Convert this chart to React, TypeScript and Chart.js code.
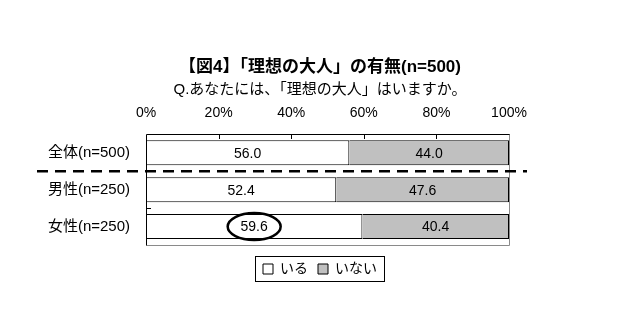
import React, { useEffect, useRef } from 'react';
import { Chart, registerables } from 'chart.js';

Chart.register(...registerables);

const categories = ['全体(n=500)', '男性(n=250)', '女性(n=250)'];
const seriesNames = ['いる', 'いない'];
const iruValues = [56.0, 52.4, 59.6];
const inaiValues = [44.0, 47.6, 40.4];
const seriesColors = ['#ffffff', '#c0c0c0'];
const xMin = 0;
const xMax = 100;
const xStep = 20;
const titleLine1 = '【図4】「理想の大人」の有無(n=500)';
const titleLine2 = 'Q.あなたには、「理想の大人」はいますか。';
const highlight = { dataset: 0, index: 2 };

const LATIN = "'Liberation Sans', 'Noto Sans CJK JP', sans-serif";
const NARROW = "'Liberation Sans Narrow', 'Liberation Sans', 'Noto Sans CJK JP', sans-serif";

const decorPlugin = {
  id: 'decor',
  afterDatasetsDraw(chart: any) {
    const ctx = chart.ctx;
    const ca = chart.chartArea;
    const xs = chart.scales.x;
    const ys = chart.scales.y;
    ctx.save();
    // data labels
    ctx.font = `14px ${LATIN}`;
    ctx.fillStyle = '#000';
    ctx.textAlign = 'center';
    ctx.textBaseline = 'middle';
    chart.data.datasets.forEach((ds: any, di: number) => {
      const meta = chart.getDatasetMeta(di);
      meta.data.forEach((el: any, i: number) => {
        const cx = (el.x + el.base) / 2;
        ctx.fillText(Number(ds.data[i]).toFixed(1), cx, el.y + 1);
        if (di === highlight.dataset && i === highlight.index) {
          ctx.beginPath();
          ctx.lineWidth = 2.5;
          ctx.strokeStyle = '#000';
          ctx.ellipse(cx, el.y, 26.5, 13.5, 0, 0, Math.PI * 2);
          ctx.stroke();
        }
      });
    });
    // frame
    ctx.lineWidth = 1;
    ctx.strokeStyle = '#8a8a8a';
    ctx.beginPath();
    ctx.moveTo(Math.round(ca.right) + 0.5, Math.round(ca.top));
    ctx.lineTo(Math.round(ca.right) + 0.5, Math.round(ca.bottom) + 0.5);
    ctx.lineTo(Math.round(ca.left) + 0.5, Math.round(ca.bottom) + 0.5);
    ctx.stroke();
    ctx.strokeStyle = '#000';
    ctx.beginPath();
    ctx.moveTo(Math.round(ca.left) + 0.5, Math.round(ca.bottom) + 0.5);
    ctx.lineTo(Math.round(ca.left) + 0.5, Math.round(ca.top) + 0.5);
    ctx.lineTo(Math.round(ca.right) + 0.5, Math.round(ca.top) + 0.5);
    ctx.stroke();
    // inward x ticks
    ctx.beginPath();
    for (let v = xMin + xStep; v < xMax; v += xStep) {
      const px = Math.round(xs.getPixelForValue(v)) + 0.5;
      ctx.moveTo(px, Math.round(ca.top));
      ctx.lineTo(px, Math.round(ca.top) + 5);
    }
    // inward category ticks
    for (let i = 0; i < categories.length - 1; i++) {
      const py = Math.round((ys.getPixelForValue(i) + ys.getPixelForValue(i + 1)) / 2) + 0.5;
      ctx.moveTo(Math.round(ca.left), py);
      ctx.lineTo(Math.round(ca.left) + 5, py);
    }
    ctx.stroke();
    // dashed separator between total and breakdown
    const sepY = (ys.getPixelForValue(0) + ys.getPixelForValue(1)) / 2;
    ctx.beginPath();
    ctx.setLineDash([11, 7]);
    ctx.lineWidth = 2.5;
    ctx.moveTo(ca.left - 109, sepY);
    ctx.lineTo(ca.right + 18, sepY);
    ctx.stroke();
    ctx.setLineDash([]);
    // legend box
    const lg = chart.legend;
    if (lg && lg.legendHitBoxes && lg.legendHitBoxes.length) {
      const hb = lg.legendHitBoxes;
      const first = hb[0];
      const last = hb[hb.length - 1];
      const l = Math.round(first.left - 8) + 0.5;
      const r = Math.round(last.left + last.width + 7) + 0.5;
      const t = Math.round(first.top - 6) + 0.5;
      const b = Math.round(first.top + first.height + 5) + 0.5;
      ctx.lineWidth = 1;
      ctx.strokeStyle = '#000';
      ctx.strokeRect(l, t, r - l, b - t);
    }
    ctx.restore();
  },
};

export default function App() {
  const ref = useRef<HTMLCanvasElement | null>(null);
  useEffect(() => {
    if (!ref.current) return;
    Chart.defaults.color = '#000';
    const chart = new Chart(ref.current, {
      type: 'bar',
      data: {
        labels: categories,
        datasets: [
          {
            label: seriesNames[0],
            data: iruValues,
            backgroundColor: seriesColors[0],
            borderColor: '#000',
            borderWidth: 1,
            barPercentage: 0.68,
            categoryPercentage: 1,
          },
          {
            label: seriesNames[1],
            data: inaiValues,
            backgroundColor: seriesColors[1],
            borderColor: '#000',
            borderWidth: 1,
            barPercentage: 0.68,
            categoryPercentage: 1,
          },
        ],
      },
      options: {
        indexAxis: 'y',
        animation: false,
        responsive: false,
        devicePixelRatio: 1,
        layout: { padding: { left: 22, right: 0, top: 0, bottom: 41 } },
        scales: {
          x: {
            type: 'linear',
            position: 'top',
            stacked: true,
            min: xMin,
            max: xMax,
            ticks: {
              stepSize: xStep,
              padding: 13,
              font: { family: NARROW, size: 14 },
              color: '#000',
              callback: (v: any) => `${v}%`,
            },
            grid: { display: false, drawTicks: false },
            border: { display: false },
            afterFit: (s: any) => {
              s.height = 36;
            },
          },
          y: {
            type: 'category',
            stacked: true,
            ticks: {
              padding: 16,
              font: { family: LATIN, size: 15 },
              color: '#000',
            },
            grid: { display: false, drawTicks: false },
            border: { display: false },
            afterFit: (s: any) => {
              s.width = 124;
            },
          },
          x2: {
            type: 'linear',
            position: 'bottom',
            display: true,
            ticks: { display: false },
            grid: { display: false, drawTicks: false },
            border: { display: false },
            afterFit: (s: any) => {
              s.height = 7;
            },
          },
          y2: {
            type: 'linear',
            position: 'right',
            display: true,
            ticks: { display: false },
            grid: { display: false, drawTicks: false },
            border: { display: false },
            afterFit: (s: any) => {
              s.width = 109;
            },
          },
        },
        plugins: {
          title: {
            display: true,
            text: titleLine1,
            color: '#000',
            font: { family: LATIN, size: 17, weight: 'bold' },
            padding: { top: 57, bottom: 3 },
          },
          subtitle: {
            display: true,
            text: titleLine2,
            color: '#000',
            font: { family: LATIN, size: 15 },
            padding: { top: 0, bottom: 0 },
          },
          legend: {
            display: true,
            position: 'bottom',
            labels: {
              boxWidth: 10,
              boxHeight: 10,
              padding: 10,
              color: '#000',
              font: { family: LATIN, size: 14 },
            },
          },
          tooltip: { enabled: false },
        },
      },
      plugins: [decorPlugin],
    } as any);
    return () => chart.destroy();
  }, []);
  return (
    <div style={{ position: 'absolute', left: 0, top: 0, width: 618, height: 327, background: '#fff' }}>
      <canvas ref={ref} width={618} height={327} />
    </div>
  );
}
